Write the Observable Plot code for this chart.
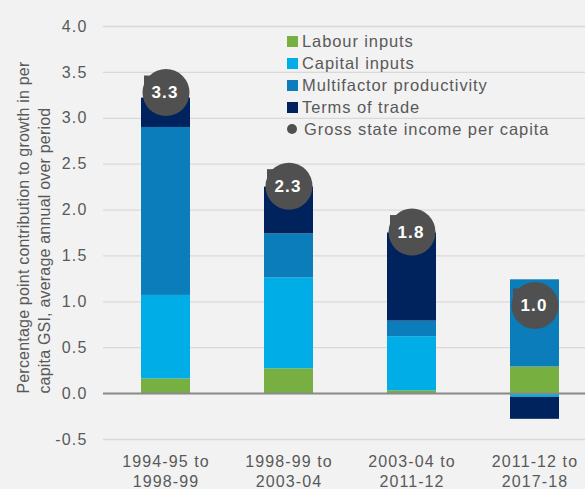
<!DOCTYPE html>
<html>
<head>
<meta charset="utf-8">
<script src="https://cdn.jsdelivr.net/npm/d3@7"></script>
<script src="https://cdn.jsdelivr.net/npm/@observablehq/plot@0.6"></script>
<style>
  html, body { margin: 0; padding: 0; background: #f2f2f2; }
  #wrap { position: relative; width: 585px; height: 489px; font-family: "Liberation Sans", Arial, sans-serif; }
  #wrap svg g[aria-label="y-axis tick label"] text { letter-spacing: 1.2px; }
  #wrap svg g[aria-label="x-axis tick label"] text { letter-spacing: 1.1px; }
  #legend { position: absolute; left: 287px; top: 30px; font-size: 16.5px; color: #595959; letter-spacing: 0.9px; }
  #legend .row { height: 22px; line-height: 22px; white-space: nowrap; display: flex; align-items: center; }
  #legend .sw { width: 11px; height: 11px; margin-right: 4px; flex: none; }
  #legend .dt { width: 10px; height: 10px; border-radius: 50%; margin: 0 7px 0 0; flex: none; }
</style>
</head>
<body>
<div id="wrap"></div>
<script>
const periods = ["1994-95 to\n1998-99", "1998-99 to\n2003-04", "2003-04 to\n2011-12", "2011-12 to\n2017-18"];
const seriesNames = ["Labour inputs", "Capital inputs", "Multifactor productivity", "Terms of trade"];
const seriesColors = ["#77b041", "#00ade6", "#0a7dba", "#00235e"];
const labour  = [0.16, 0.27, 0.03, 0.29];
const capital = [0.91, 0.99, 0.59, -0.04];
const mfp     = [1.83, 0.48, 0.17, 0.95];
const tot     = [0.32, 0.51, 0.96, -0.24];
const gsi     = [3.28, 2.26, 1.76, 0.96];
const gsiName = "Gross state income per capita";
const yTicks  = [-0.5, 0, 0.5, 1.0, 1.5, 2.0, 2.5, 3.0, 3.5, 4.0];
const yTitle  = "Percentage point contribution to growth in per\ncapita GSI, average annual over period";

const seriesValues = [labour, capital, mfp, tot];
const stackData = [];
periods.forEach((p, i) => {
  seriesNames.forEach((s, j) => stackData.push({period: p, series: s, value: seriesValues[j][i]}));
});
const dotData = periods.map((p, i) => ({period: p, value: gsi[i]}));

const textColor = "#595959";
const chart = Plot.plot({
  width: 585,
  height: 489,
  marginLeft: 103,
  marginRight: 0,
  marginTop: 26,
  marginBottom: 50,
  style: {background: "#f2f2f2", fontFamily: "'Liberation Sans', Arial, sans-serif", color: textColor},
  x: {domain: periods, range: [103, 598], paddingInner: 0.6, paddingOuter: 0.3},
  y: {domain: [-0.5, 4], ticks: yTicks},
  color: {domain: seriesNames, range: seriesColors},
  marks: [
    Plot.gridY(yTicks, {stroke: "#dcd8d5", strokeOpacity: 1, strokeWidth: 1.3}),
    Plot.barY(stackData, {x: "period", y: "value", fill: "series"}),
    Plot.ruleY([0], {stroke: "#8a8a8a", strokeWidth: 2}),
    Plot.axisY(yTicks, {tickSize: 0, tickPadding: 16, fontSize: 16, tickFormat: d => d.toFixed(1), fill: textColor, label: null}),
    Plot.axisX({tickSize: 0, tickPadding: 13, fontSize: 16, lineHeight: 1.25, fill: textColor, label: null}),
    Plot.text([yTitle], {y: () => 0, frameAnchor: "left", dx: -71, rotate: -90, textAnchor: "start", lineAnchor: "middle", lineHeight: 1.35, fontSize: 16, fill: textColor}),
    Plot.dot(dotData, {x: "period", y: "value", symbol: "square", r: 14.7, dx: -9, dy: -4, fill: "#505050"}),
    Plot.dot(dotData, {x: "period", y: "value", r: 23.5, fill: "#505050"}),
    Plot.text(dotData, {x: "period", y: "value", text: d => d.value.toFixed(1), fill: "white", fontWeight: "bold", fontSize: 17, dx: -1})
  ]
});
const textGroups = chart.querySelectorAll('g[aria-label="text"]');
if (textGroups[0]) textGroups[0].style.letterSpacing = "0.2px";
if (textGroups[1]) textGroups[1].style.letterSpacing = "1.1px";
const wrap = document.getElementById("wrap");
wrap.appendChild(chart);

const legend = document.createElement("div");
legend.id = "legend";
seriesNames.forEach((s, j) => {
  const row = document.createElement("div");
  row.className = "row";
  row.innerHTML = `<span class="sw" style="background:${seriesColors[j]}"></span><span>${s}</span>`;
  legend.appendChild(row);
});
const drow = document.createElement("div");
drow.className = "row";
drow.innerHTML = `<span class="dt" style="background:#505050"></span><span>${gsiName}</span>`;
legend.appendChild(drow);
wrap.appendChild(legend);
</script>
</body>
</html>
